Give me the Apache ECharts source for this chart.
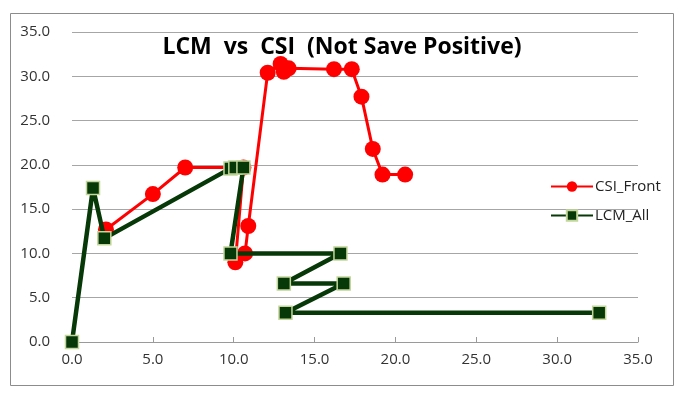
<!DOCTYPE html>
<html>
<head>
<meta charset="utf-8">
<script src="https://cdn.jsdelivr.net/npm/echarts@6/dist/echarts.min.js"></script>
<style>
  html, body { margin: 0; padding: 0; background: #fff; }
  #chart { width: 684px; height: 397px; }
</style>
</head>
<body>
<div id="chart"></div>
<script>
// values
const csiX = [2.1, 5.0, 7.0, 10.6, 10.1, 10.7, 10.9, 12.1, 12.9, 13.1, 13.4, 16.2, 17.3, 17.9, 18.6, 19.2, 20.6]
const csiY = [12.7, 16.7, 19.7, 19.7, 9.0, 10.0, 13.1, 30.4, 31.4, 30.5, 30.9, 30.8, 30.8, 27.7, 21.8, 18.9, 18.9]
const lcmX = [0.0, 1.3, 2.0, 9.8, 10.1, 10.6, 9.8, 16.6, 13.1, 16.8, 13.2, 32.6]
const lcmY = [0.0, 17.4, 11.7, 19.6, 19.7, 19.7, 10.0, 10.0, 6.6, 6.6, 3.3, 3.3]
const seriesNames = ['CSI_Front', 'LCM_All']
const chartTitle = 'LCM  vs  CSI  (Not Save Positive)'

const font = "'Open Sans', sans-serif"

const pairs = (xs, ys) => xs.map((x, i) => [x, ys[i]])

const chart = echarts.init(document.getElementById('chart'))

chart.setOption({
  animation: false,
  textStyle: { fontFamily: font },
  title: {
    text: chartTitle,
    left: 'center',
    top: 31,
    textStyle: { fontSize: 23, fontWeight: 'bold', color: '#000', fontFamily: font }
  },
  graphic: [{
    type: 'rect',
    shape: { x: 10.5, y: 13.5, width: 663, height: 372 },
    style: { fill: 'none', stroke: '#8c8c8c', lineWidth: 1 },
    silent: true
  }],
  legend: {
    orient: 'vertical',
    left: 545,
    top: 174,
    itemWidth: 42,
    itemHeight: 13,
    itemGap: 14,
    data: seriesNames,
    textStyle: { fontSize: 15, color: '#222', fontFamily: font, padding: [0, 0, 0, -3] }
  },
  grid: { left: 72, right: 46, top: 32, bottom: 55 },
  xAxis: {
    type: 'value',
    min: 0,
    max: 35,
    interval: 5,
    splitLine: { show: false },
    axisLine: { show: true, lineStyle: { color: '#9a9a9a' } },
    axisTick: { show: true, inside: true, length: 5, lineStyle: { color: '#9a9a9a' } },
    axisLabel: { formatter: v => v.toFixed(1), fontSize: 15, color: '#333', margin: 10 }
  },
  yAxis: {
    type: 'value',
    min: 0,
    max: 35,
    interval: 5,
    axisLine: { show: false },
    axisTick: { show: false },
    splitLine: { lineStyle: { color: '#a6a6a6' } },
    axisLabel: { formatter: v => v.toFixed(1), fontSize: 15, color: '#333', margin: 22 }
  },
  series: [
    {
      name: seriesNames[0],
      type: 'line',
      data: pairs(csiX, csiY),
      symbol: 'circle',
      symbolSize: 16,
      lineStyle: { color: '#ff0000', width: 3 },
      itemStyle: { color: '#ff0000' },
      z: 2
    },
    {
      name: seriesNames[1],
      type: 'line',
      data: pairs(lcmX, lcmY),
      symbol: 'rect',
      symbolSize: 13,
      lineStyle: { color: '#073807', width: 4.5 },
      itemStyle: { color: '#073807', borderColor: '#c4d79b', borderWidth: 1.5 },
      z: 3
    }
  ]
})
</script>
</body>
</html>
